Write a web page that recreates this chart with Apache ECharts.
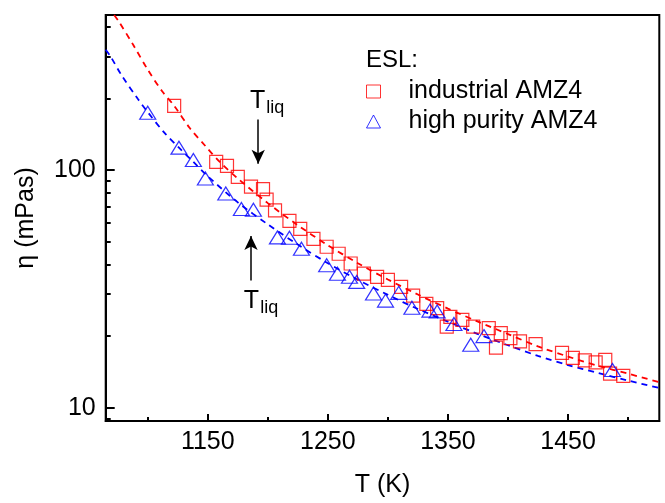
<!DOCTYPE html>
<html>
<head>
<meta charset="utf-8">
<script src="https://cdn.jsdelivr.net/npm/echarts@6/dist/echarts.min.js"></script>
<style>html,body{margin:0;padding:0;background:#fff}#c{width:665px;height:503px}</style>
</head>
<body>
<div id="c"></div>
<script>
// ---- data ----
const industrialT   = [1122,1157,1166,1175,1186,1196,1199,1206,1218,1227,1238,1249,1259,1269,1280,1291,1300,1311,1321,1332,1341,1349,1352,1362,1371,1384,1390,1394,1402,1410,1423,1445,1454,1464,1473,1481,1485,1496];
const industrialEta = [186,108,104,93.5,85,83,75,67.5,61,56.5,51.3,47.5,44.4,40.4,36.6,35.5,34.5,32.2,29.6,27.3,26.2,21.9,24.1,23.4,21.9,21.6,17.9,20.6,19.6,19.0,18.5,17.0,16.2,15.8,15.5,15.9,13.9,13.6];

const purityT   = [1100,1126,1138,1148,1165,1178,1188,1208,1218,1228,1249,1258,1268,1274,1288,1298,1309,1320,1335,1341,1355,1369,1380,1487];
const purityEta = [174,124,110,92,79.5,68.5,68,52,51.8,46.6,39.7,36.6,35.5,33.8,30.2,28.2,30.4,26.3,25.6,25.4,22.5,18.4,20.0,14.4];

const fitIndT   = [1072,1076,1088,1100,1112,1122,1135,1148,1160,1175,1200,1225,1250,1275,1300,1325,1350,1375,1400,1425,1450,1475,1500,1526];
const fitIndEta = [448,420,335,264,214,186,150,126,108,92,72.5,58.5,48.2,40.5,34.6,29.9,26.1,23.0,20.4,18.1,16.4,15.0,13.9,12.8];

const fitPurT   = [1065,1069,1078,1092,1100,1114,1126,1138,1150,1175,1200,1225,1250,1275,1300,1325,1350,1375,1400,1425,1450,1475,1500,1526];
const fitPurEta = [320,300,251,198,175,143,124,108,94,73,59,48.5,40.5,34.5,29.8,26.0,23.0,20.4,18.3,16.5,15.1,14.0,13.0,12.1];

const xMajorTicks = [1150,1250,1350,1450];
const xMinorTicks = [1100,1200,1300,1400,1500];
const yMajorTicks = [10,100];
const yMinorTicks = [9,20,30,40,50,60,70,80,90,200,300,400];

const tliqUpper = [[1192,163],[1192,106]];
const tliqLower = [[1186,34.3],[1186,52.7]];

const X_MIN = 1065, X_MAX = 1526, Y_MIN = 8.79, Y_MAX = 448;

const FONT = '"Liberation Sans", Arial, sans-serif';
const zip = (a,b) => a.map((v,i)=>[v,b[i]]);

const chart = echarts.init(document.getElementById('c'), null, {renderer:'canvas'});
function tliqLabel(offset) {
  return {
    show: true, position: 'start', distance: 4, offset: offset,
    formatter: '{a|T}{b|liq}',
    rich: {
      a: {fontSize: 25, fontFamily: FONT, color: '#000', verticalAlign: 'top', lineHeight: 27},
      b: {fontSize: 18, fontFamily: FONT, color: '#000', verticalAlign: 'top', padding: [11,0,0,1], lineHeight: 20}
    }
  };
}
chart.setOption({
  animation: false,
  backgroundColor: '#fff',
  textStyle: {fontFamily: FONT},
  grid: {left: 105.7, right: 5.7, top: 15, bottom: 79.7, show: true, borderColor: '#000', borderWidth: 2, containLabel: false},
  title: {text: 'ESL:', left: 361, top: 43, textStyle: {fontSize: 24, fontWeight: 'normal', color: '#000', fontFamily: FONT}},
  legend: {
    orient: 'vertical', left: 361, top: 74, itemWidth: 14, itemHeight: 13, itemGap: 5,
    textStyle: {fontSize: 25, color: '#000', fontFamily: FONT, padding: [0,0,0,23]},
    data: [
      {name: 'industrial AMZ4', icon: 'rect', itemStyle: {color: 'rgba(0,0,0,0)', borderColor: '#ff0000', borderWidth: 1}},
      {name: 'high purity AMZ4', icon: 'triangle', itemStyle: {color: 'rgba(0,0,0,0)', borderColor: '#0000ff', borderWidth: 1}}
    ]
  },
  xAxis: [
    {type: 'value', min: X_MIN, max: X_MAX, name: 'T (K)', nameLocation: 'middle', nameGap: 52,
     nameTextStyle: {fontSize: 25, color: '#000', fontFamily: FONT},
     axisLine: {lineStyle: {color: '#000', width: 2}},
     axisTick: {inside: true, length: 7, lineStyle: {color: '#000', width: 2}, customValues: xMajorTicks},
     axisLabel: {fontSize: 25, color: '#000', margin: 9, customValues: xMajorTicks, fontFamily: FONT,
                 formatter: v => String(v)},
     splitLine: {show: false}},
    {type: 'value', min: X_MIN, max: X_MAX, position: 'bottom',
     axisLine: {show: false}, axisLabel: {show: false}, splitLine: {show: false},
     axisTick: {inside: true, length: 4, lineStyle: {color: '#000', width: 2}, customValues: xMinorTicks}}
  ],
  yAxis: [
    {type: 'log', min: Y_MIN, max: Y_MAX, name: 'η (mPas)', nameLocation: 'middle', nameGap: 67, nameRotate: 90,
     nameTextStyle: {fontSize: 25, color: '#000', fontFamily: FONT},
     axisLine: {lineStyle: {color: '#000', width: 2}},
     axisTick: {inside: true, length: 9, lineStyle: {color: '#000', width: 2}, customValues: yMajorTicks},
     axisLabel: {fontSize: 25, color: '#000', margin: 10, customValues: yMajorTicks, fontFamily: FONT,
                 formatter: v => String(v)},
     splitLine: {show: false}},
    {type: 'log', min: Y_MIN, max: Y_MAX, position: 'left',
     axisLine: {show: false}, axisLabel: {show: false}, splitLine: {show: false},
     axisTick: {inside: true, length: 5, lineStyle: {color: '#000', width: 2}, customValues: yMinorTicks}}
  ],
  series: [
    {type: 'line', name: 'fit industrial', data: zip(fitIndT, fitIndEta), showSymbol: false, symbol: 'none', smooth: 0.3,
     lineStyle: {color: '#ff0000', width: 1.8, type: [6,5]}, silent: true, z: 1},
    {type: 'line', name: 'fit purity', data: zip(fitPurT, fitPurEta), showSymbol: false, symbol: 'none', smooth: 0.3,
     lineStyle: {color: '#0000ff', width: 1.8, type: [6,5]}, silent: true, z: 1},
    {type: 'scatter', name: 'industrial AMZ4', data: zip(industrialT, industrialEta), symbol: 'rect', symbolSize: 13,
     itemStyle: {color: 'rgba(0,0,0,0)', borderColor: '#ff0000', borderWidth: 1.2}, z: 3,
     markLine: {silent: true, symbol: ['none','arrow'], symbolSize: [10,14],
       lineStyle: {color: '#000', width: 1.5, type: 'solid'}, label: tliqLabel([9,0]),
       data: [[{coord: tliqUpper[0]}, {coord: tliqUpper[1]}]]}},
    {type: 'scatter', name: 'high purity AMZ4', data: zip(purityT, purityEta), symbol: 'triangle', symbolSize: [16,13],
     itemStyle: {color: 'rgba(0,0,0,0)', borderColor: '#0000ff', borderWidth: 1.2}, z: 3,
     markLine: {silent: true, symbol: ['none','arrow'], symbolSize: [10,14],
       lineStyle: {color: '#000', width: 1.5, type: 'solid'}, label: tliqLabel([10,4]),
       data: [[{coord: tliqLower[0]}, {coord: tliqLower[1]}]]}}
  ]
});
</script>
</body>
</html>
